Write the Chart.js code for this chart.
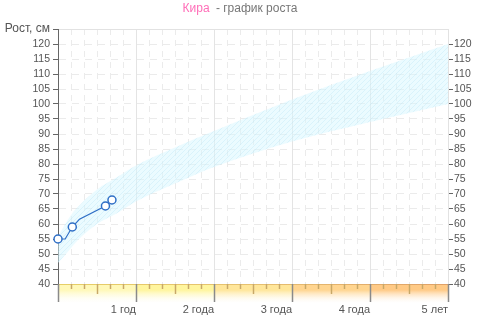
<!DOCTYPE html>
<html lang="ru">
<head>
<meta charset="UTF-8">
<title>Кира - график роста</title>
<script src="https://cdn.jsdelivr.net/npm/chart.js"></script>
<style>
  body { margin: 0; background: #ffffff; }
  canvas { display: block; }
</style>
</head>
<body>
<canvas id="growthChart" width="480" height="328"></canvas>
<script>
// measured height: age in months, height in cm
const ageMonths = [0, 1.1, 2.2, 3.3, 7.3, 8.3];
const heightCm = [55, 55, 59, 61.6, 66, 68];
const markerShown = [true, false, true, false, true, true];

// normal range (band)
const normMonths = [0, 1, 2, 3, 6, 9, 12, 18, 24, 36, 48, 60];
const normLow = [47, 49.5, 52, 54.5, 60, 63.5, 67.5, 73.5, 79, 87.5, 94, 100];
const normHigh = [56, 59.5, 63, 65.5, 71.5, 75.5, 79.5, 85.5, 91, 101.5, 111, 120];

const yearLabels = ['1 год', '2 года', '3 года', '4 года', '5 лет'];
const yTopLabel = 'Рост, см';
const childName = 'Кира';
const titleRest = ' - график роста';

const toPoints = (xs, ys) => xs.map((x, i) => ({ x: x, y: ys[i] }));

// hatched fill for the band
function makeHatch() {
    const c = document.createElement('canvas');
    c.width = 5;
    c.height = 5;
    const g = c.getContext('2d');
    g.fillStyle = 'rgba(215, 248, 255, 0.5)';
    g.fillRect(0, 0, 5, 5);
    g.strokeStyle = 'rgba(170, 222, 245, 0.28)';
    g.lineWidth = 1;
    g.beginPath();
    g.moveTo(0, 5); g.lineTo(5, 0);
    g.moveTo(-1, 1); g.lineTo(1, -1);
    g.moveTo(4, 6); g.lineTo(6, 4);
    g.stroke();
    return g.createPattern(c, 'repeat');
}

// title drawn in two colours
const titlePlugin = {
    id: 'twoColorTitle',
    afterDraw(chart) {
        const ctx = chart.ctx;
        ctx.save();
        ctx.font = '12px "Liberation Sans", Arial, sans-serif';
        ctx.textBaseline = 'middle';
        const w1 = ctx.measureText(childName).width;
        const w2 = ctx.measureText(titleRest).width;
        const gap = 3;
        let x = 240 - (w1 + gap + w2) / 2;
        ctx.fillStyle = '#ff6eb8';
        ctx.fillText(childName, x, 9);
        ctx.fillStyle = '#777777';
        ctx.fillText(titleRest, x + w1 + gap, 9);
        ctx.restore();
    }
};

// coloured strip under the x axis with its tick marks
const stripPlugin = {
    id: 'ageStrip',
    afterDraw(chart) {
        const ctx = chart.ctx;
        const xs = chart.scales.x;
        const top = chart.chartArea.bottom;
        const colors = ['#fff8b8', '#fff59e', '#ffe69a', '#ffd590', '#ffca86'];
        ctx.save();
        for (let i = 0; i < 5; i++) {
            const x0 = xs.getPixelForValue(i * 12);
            const x1 = xs.getPixelForValue((i + 1) * 12);
            const grad = ctx.createLinearGradient(0, top, 0, top + 20);
            grad.addColorStop(0, colors[i]);
            grad.addColorStop(0.3, colors[i]);
            grad.addColorStop(1, 'rgba(255,255,255,0)');
            ctx.fillStyle = grad;
            ctx.fillRect(x0, top, x1 - x0, 20);
        }
        const line = ctx.createLinearGradient(xs.left, 0, xs.right, 0);
        line.addColorStop(0, '#e6cf66');
        line.addColorStop(0.5, '#e6c070');
        line.addColorStop(1, '#e0a068');
        ctx.fillStyle = line;
        ctx.fillRect(xs.left, top, xs.right - xs.left, 1);
        for (let m = 0; m <= 60; m += 2) {
            const px = Math.round(xs.getPixelForValue(m)) + 0.5;
            let len = 5;
            ctx.strokeStyle = '#c8a868';
            if (m % 12 === 0) { len = 18; ctx.strokeStyle = '#8a8a8a'; }
            else if (m % 6 === 0) { len = 10; }
            ctx.beginPath();
            ctx.moveTo(px, top);
            ctx.lineTo(px, top + len);
            ctx.stroke();
        }
        ctx.restore();
    }
};

const ctx = document.getElementById('growthChart').getContext('2d');
const hatch = makeHatch();
const tickFont = { family: '"Liberation Sans", Arial, sans-serif', size: 10.5 };

new Chart(ctx, {
    type: 'line',
    data: {
        datasets: [
            {
                label: 'height',
                order: 0,
                clip: false,
                data: toPoints(ageMonths, heightCm),
                borderColor: '#2f6fc6',
                borderWidth: 1.2,
                pointRadius: markerShown.map(s => s ? 4 : 0),
                pointBackgroundColor: '#ffffff',
                pointBorderColor: '#2f6fc6',
                pointBorderWidth: 1.5,
                tension: 0,
                fill: false
            },
            {
                label: 'low',
                order: 2,
                data: toPoints(normMonths, normLow),
                borderWidth: 0,
                borderColor: 'rgba(0,0,0,0)',
                pointRadius: 0,
                tension: 0.4,
                cubicInterpolationMode: 'monotone',
                fill: false
            },
            {
                label: 'high',
                order: 1,
                data: toPoints(normMonths, normHigh),
                borderWidth: 0,
                borderColor: 'rgba(0,0,0,0)',
                backgroundColor: hatch,
                pointRadius: 0,
                tension: 0.4,
                cubicInterpolationMode: 'monotone',
                fill: '-1'
            }
        ]
    },
    options: {
        responsive: false,
        animation: false,
        layout: { padding: { top: 29, left: 0, right: 0, bottom: 0 } },
        plugins: {
            legend: { display: false },
            tooltip: { enabled: false },
            title: { display: false }
        },
        scales: {
            x: {
                type: 'linear',
                min: 0,
                max: 60,
                afterFit(scale) { scale.height = 44; },
                border: { display: false, dash: ctx => (ctx.tick && ctx.tick.value % 12 === 0) ? [] : [6, 5] },
                grid: {
                    color: ctx => {
                        const v = ctx.tick.value;
                        if (v === 0 || v === 60) return 'rgba(0,0,0,0)';
                        return v % 12 === 0 ? '#e4e4e4' : '#ebebeb';
                    },
                    tickLength: 18,
                    tickColor: 'rgba(0,0,0,0)'
                },
                ticks: {
                    stepSize: 2,
                    autoSkip: false,
                    maxRotation: 0,
                    align: 'end',
                    padding: 1,
                    color: '#555555',
                    font: { family: '"Liberation Sans", Arial, sans-serif', size: 11 },
                    callback: v => (v > 0 && v % 12 === 0) ? yearLabels[v / 12 - 1] : ''
                }
            },
            y: {
                position: 'left',
                min: 40,
                max: 125,
                afterFit(scale) { scale.width = 58; },
                border: { color: '#666666', dash: ctx => (ctx.tick && ctx.tick.value === 125) ? [] : [7, 6] },
                grid: {
                    color: ctx => {
                        const v = ctx.tick.value;
                        if (v === 40) return 'rgba(0,0,0,0)';
                        return v === 125 ? '#e2e2e2' : '#ebebeb';
                    },
                    tickLength: 5,
                    tickColor: '#666666'
                },
                ticks: {
                    stepSize: 5,
                    autoSkip: false,
                    padding: 3,
                    color: '#555555',
                    font: ctx => (ctx.tick && ctx.tick.value === 125)
                        ? { family: tickFont.family, size: 12 } : tickFont,
                    callback: v => v === 125 ? yTopLabel : v
                }
            },
            y2: {
                position: 'right',
                min: 40,
                max: 125,
                afterFit(scale) { scale.width = 32; },
                border: { color: '#e2e2e2' },
                grid: {
                    drawOnChartArea: false,
                    tickLength: 5,
                    tickColor: ctx => ctx.tick.value === 125 ? 'rgba(0,0,0,0)' : '#666666'
                },
                ticks: {
                    stepSize: 5,
                    autoSkip: false,
                    padding: 1,
                    color: '#555555',
                    font: tickFont,
                    callback: v => v === 125 ? '' : v
                }
            }
        }
    },
    plugins: [stripPlugin, titlePlugin]
});
</script>
</body>
</html>
